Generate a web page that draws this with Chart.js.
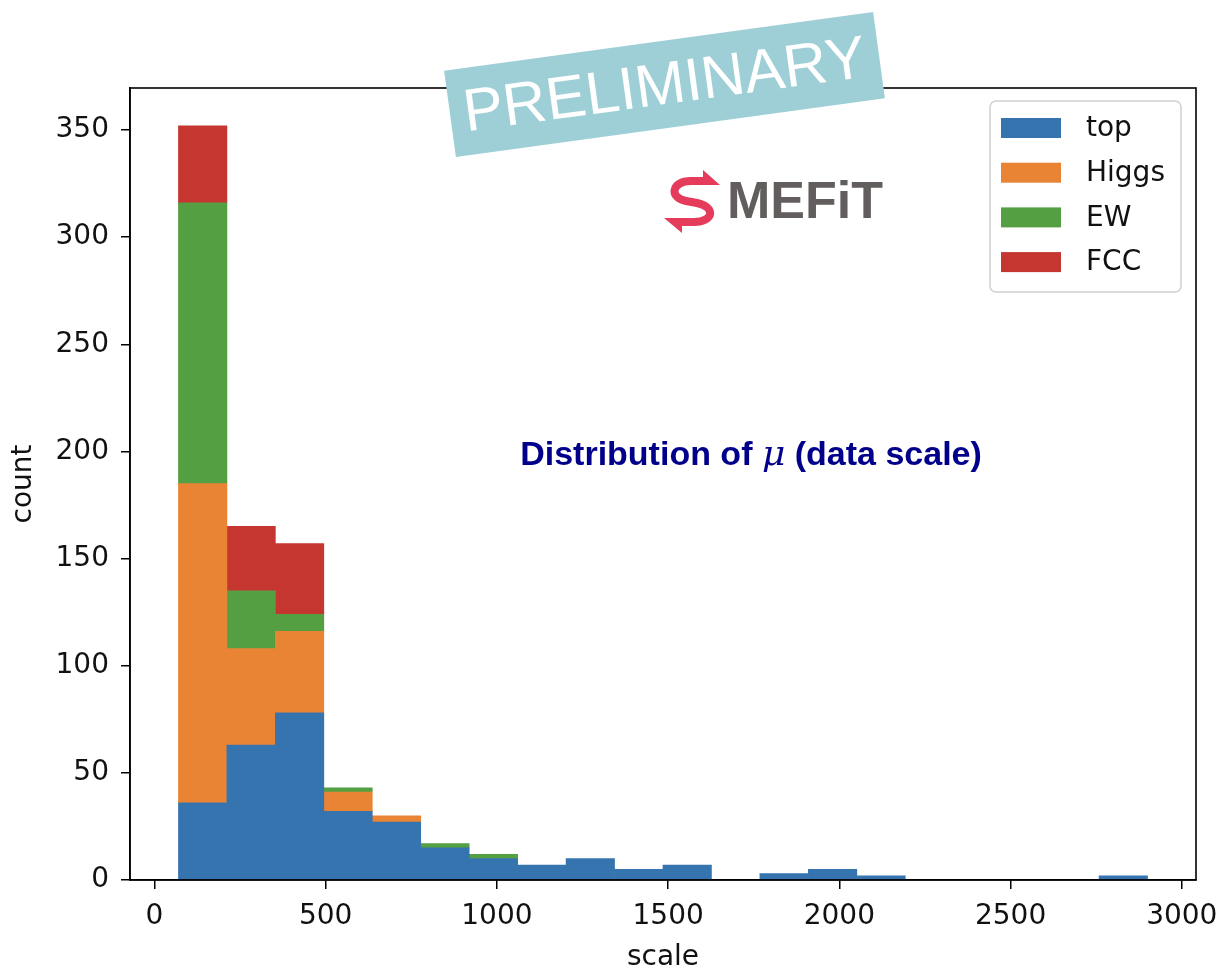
<!DOCTYPE html>
<html>
<head>
<meta charset="utf-8">
<title>Distribution of mu (data scale)</title>
<script src="https://cdn.jsdelivr.net/npm/chart.js@4.4.1/dist/chart.umd.min.js"></script>
<style>
    html, body { margin: 0; padding: 0; background: #fff; }
    #wrap { width: 1221px; height: 970px; position: relative; }
</style>
</head>
<body>
<div id="wrap"><canvas id="histChart"></canvas></div>
<script>
// histogram bin edges (scale)
const binEdges = [70, 211.5, 353, 494.5, 636, 777.5, 919, 1060.5, 1202, 1343.5, 1485,
                  1626.5, 1768, 1909.5, 2051, 2192.5, 2334, 2475.5, 2617, 2758.5, 2900];
// counts per bin, one array per group (stacked)
const topCounts   = [36, 63, 78, 32, 27, 15, 10, 7, 10, 5, 7, 0, 3, 5, 2, 0, 0, 0, 0, 2];
const higgsCounts = [149, 45, 38, 9, 3, 0, 0, 0, 0, 0, 0, 0, 0, 0, 0, 0, 0, 0, 0, 0];
const ewCounts    = [131, 27, 8, 2, 0, 2, 2, 0, 0, 0, 0, 0, 0, 0, 0, 0, 0, 0, 0, 0];
const fccCounts   = [36, 30, 33, 0, 0, 0, 0, 0, 0, 0, 0, 0, 0, 0, 0, 0, 0, 0, 0, 0];
const groupNames  = ['top', 'Higgs', 'EW', 'FCC'];
const groupColors = ['#3674b0', '#ea8435', '#559f43', '#c4362f'];
const xTicks = [0, 500, 1000, 1500, 2000, 2500, 3000];
const yTicks = [0, 50, 100, 150, 200, 250, 300, 350];

const binCenters = binEdges.slice(0, -1).map((e, i) => (e + binEdges[i + 1]) / 2);
// empty bins are skipped so no hairline is drawn for them
const toPoints = counts => counts.map((c, i) => ({ x: binCenters[i], y: c === 0 ? null : c }));

const tickFont = { family: 'DejaVu Sans', size: 28 };

// frame, legend, banner, logo and annotation
const decorations = {
    id: 'decorations',
    afterDatasetsDraw(chart) {
        const ctx = chart.ctx;
        const a = chart.chartArea;
        ctx.save();
        ctx.strokeStyle = '#000';
        ctx.lineWidth = 1.6;
        ctx.strokeRect(a.left, a.top, a.right - a.left, a.bottom - a.top);
        ctx.restore();
    },
    afterDraw(chart) {
        const ctx = chart.ctx;
        const a = chart.chartArea;

        // legend box
        const lw = 191, lh = 191;
        const lx = a.right - 15 - lw, ly = a.top + 13;
        ctx.save();
        ctx.beginPath();
        ctx.roundRect(lx, ly, lw, lh, 6);
        ctx.fillStyle = 'rgba(255,255,255,0.8)';
        ctx.fill();
        ctx.strokeStyle = '#d0d0d0';
        ctx.lineWidth = 1.5;
        ctx.stroke();
        ctx.font = '28px "DejaVu Sans"';
        ctx.textBaseline = 'middle';
        groupNames.forEach((name, i) => {
            const cy = ly + 27 + i * 44.7;
            ctx.fillStyle = groupColors[i];
            ctx.fillRect(lx + 11, cy - 10, 60, 20);
            ctx.fillStyle = '#111';
            ctx.fillText(name, lx + 96, cy + 1);
        });
        ctx.restore();

        // annotation text
        ctx.save();
        ctx.fillStyle = '#00008a';
        ctx.textBaseline = 'alphabetic';
        const part1 = 'Distribution of ';
        const part2 = '\u03bc';
        const part3 = ' (data scale)';
        const boldFont = 'bold 34px "Liberation Sans"';
        const muFont = 'italic 36px "DejaVu Serif"';
        ctx.font = boldFont;
        const w1 = ctx.measureText(part1).width;
        const w3 = ctx.measureText(part3).width;
        ctx.font = muFont;
        const w2 = ctx.measureText(part2).width;
        let tx = 751 - (w1 + w2 + w3) / 2;
        const ty = 465;
        ctx.font = boldFont;
        ctx.fillText(part1, tx, ty);
        tx += w1;
        ctx.font = muFont;
        ctx.fillText(part2, tx, ty);
        tx += w2;
        ctx.font = boldFont;
        ctx.fillText(part3, tx, ty);
        ctx.restore();

        // SMEFiT logo
        ctx.save();
        ctx.strokeStyle = '#e63c5c';
        ctx.fillStyle = '#e63c5c';
        ctx.lineWidth = 8;
        ctx.lineCap = 'butt';
        ctx.beginPath();
        ctx.moveTo(707, 181);
        ctx.lineTo(691, 181);
        ctx.bezierCurveTo(671, 181, 669, 198, 686, 201);
        ctx.lineTo(697, 203);
        ctx.bezierCurveTo(716, 207, 714, 222, 694, 222);
        ctx.lineTo(678, 222);
        ctx.stroke();
        ctx.beginPath();
        ctx.moveTo(720, 185);
        ctx.lineTo(703, 170);
        ctx.lineTo(703, 185);
        ctx.closePath();
        ctx.fill();
        ctx.beginPath();
        ctx.moveTo(664, 218);
        ctx.lineTo(682, 233);
        ctx.lineTo(682, 218);
        ctx.closePath();
        ctx.fill();
        ctx.fillStyle = '#625e5e';
        ctx.font = 'bold 52px "Liberation Sans"';
        ctx.textBaseline = 'alphabetic';
        ctx.fillText('MEFiT', 727, 218);
        ctx.restore();

        // PRELIMINARY banner
        ctx.save();
        ctx.translate(664.5, 84.5);
        ctx.rotate(-7.8 * Math.PI / 180);
        ctx.fillStyle = '#9ecfd6';
        ctx.fillRect(-216.5, -43.5, 433, 87);
        ctx.fillStyle = '#fff';
        ctx.font = '60px "Liberation Sans"';
        ctx.textAlign = 'center';
        ctx.textBaseline = 'middle';
        ctx.fillText('PRELIMINARY', 0, 3);
        ctx.restore();
    }
};

const ctx = document.getElementById('histChart');
new Chart(ctx, {
    type: 'bar',
    data: {
        datasets: [topCounts, higgsCounts, ewCounts, fccCounts].map((counts, i) => ({
            label: groupNames[i],
            data: toPoints(counts),
            backgroundColor: groupColors[i],
            borderWidth: 0,
            barPercentage: 1,
            categoryPercentage: 1
        }))
    },
    options: {
        responsive: true,
        maintainAspectRatio: false,
        animation: false,
        layout: { padding: { top: 88, right: 25, left: 0, bottom: 0 } },
        plugins: {
            legend: { display: false },
            tooltip: { enabled: false }
        },
        scales: {
            x: {
                type: 'linear',
                stacked: true,
                offset: false,
                min: -71.5,
                max: 3041.5,
                afterBuildTicks: scale => { scale.ticks = xTicks.map(v => ({ value: v })); },
                afterFit: scale => {
                    scale.height = 90;
                    scale.paddingLeft = 0;
                    scale.paddingRight = 0;
                },
                grid: { offset: false, drawOnChartArea: false, drawTicks: true, tickLength: 9, color: '#000', lineWidth: 1.5 },
                border: { display: true, color: '#000', width: 1.6 },
                ticks: { font: tickFont, color: '#111', padding: 11, maxRotation: 0, autoSkip: false,
                         callback: v => String(v) },
                title: { display: true, text: 'scale', font: tickFont, color: '#111', padding: { top: 0, bottom: -5 } }
            },
            y: {
                stacked: true,
                min: 0,
                max: 369.6,
                afterBuildTicks: scale => { scale.ticks = yTicks.map(v => ({ value: v })); },
                afterFit: scale => {
                    scale.width = 130;
                    scale.paddingTop = 0;
                    scale.paddingBottom = 0;
                },
                grid: { drawOnChartArea: false, drawTicks: true, tickLength: 9, color: '#000', lineWidth: 1.5 },
                border: { display: true, color: '#000', width: 1.6 },
                ticks: { font: tickFont, color: '#111', padding: 12, autoSkip: false,
                         callback: v => String(v) },
                title: { display: true, text: 'count', font: tickFont, color: '#111', padding: { top: 7, bottom: 0 } }
            }
        }
    },
    plugins: [decorations]
});
</script>
</body>
</html>
